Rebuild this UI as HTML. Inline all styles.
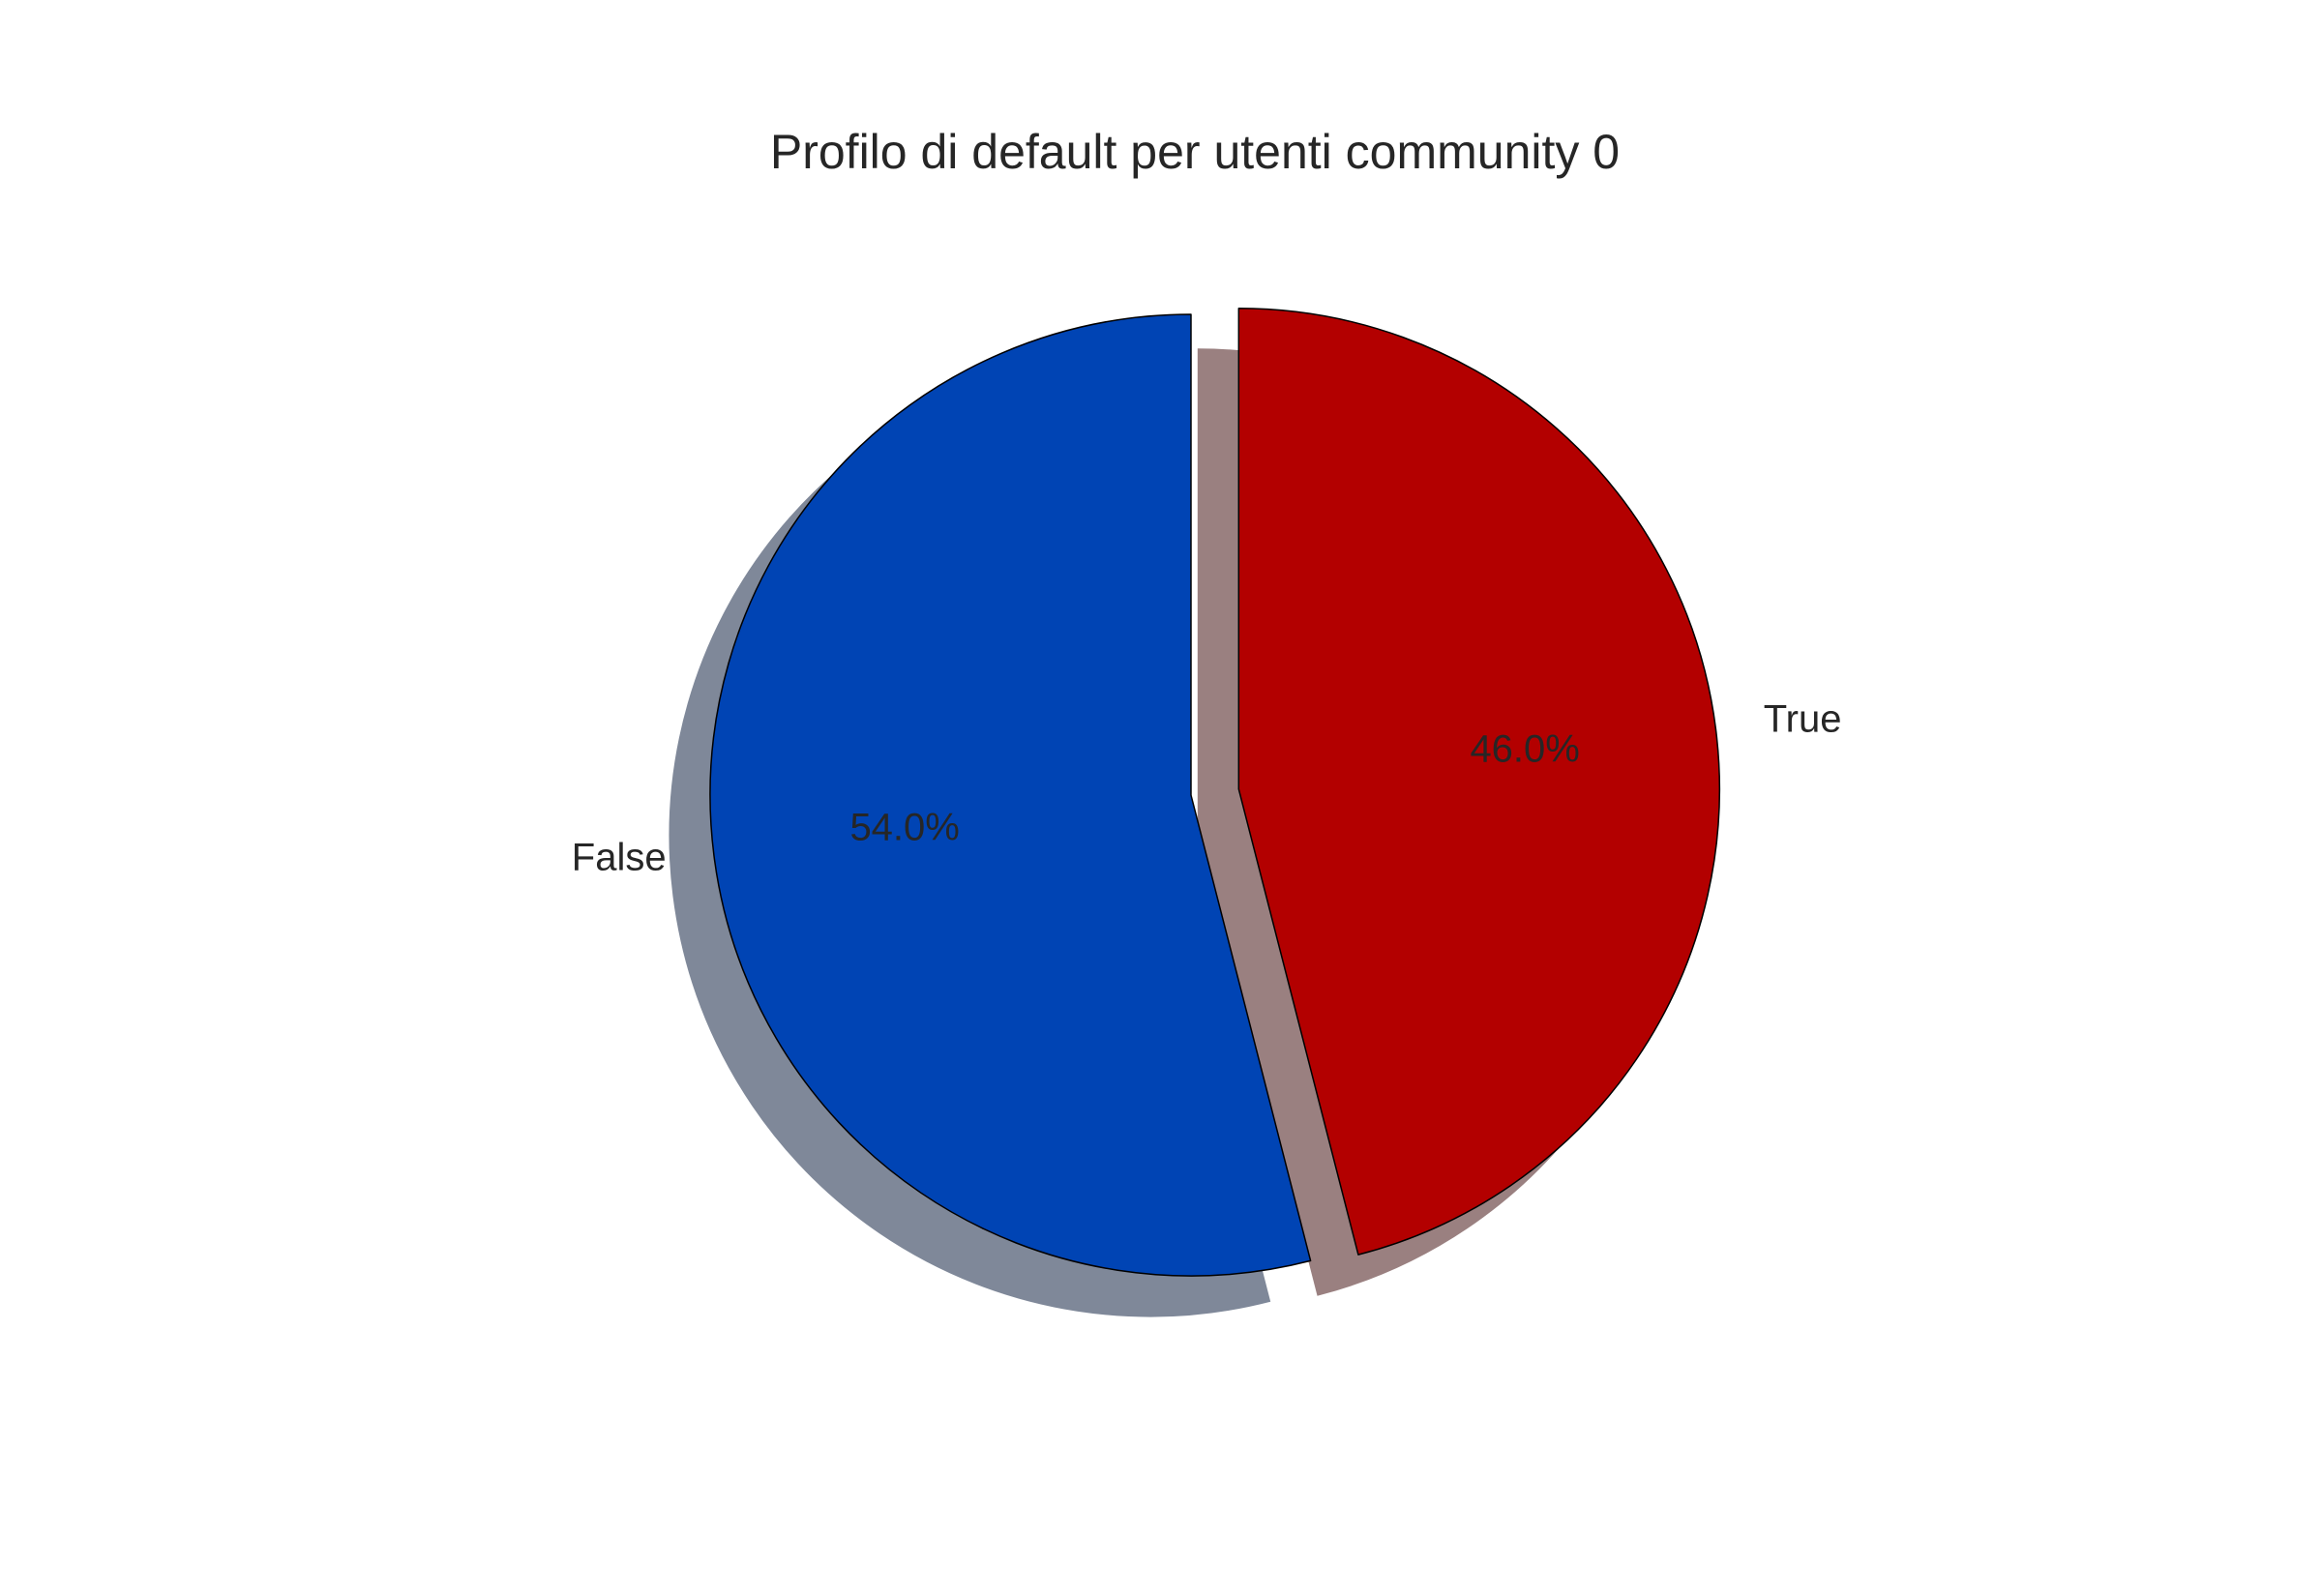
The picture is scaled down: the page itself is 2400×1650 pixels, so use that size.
<!DOCTYPE html>
<html><head><meta charset="utf-8"><style>
html,body{margin:0;padding:0;background:#fff}
svg{display:block}
text{font-family:"Liberation Sans",Arial,sans-serif;fill:#262626}
</style></head><body>
<svg id="chart" width="2400" height="1650" viewBox="0 0 2400 1650" xmlns="http://www.w3.org/2000/svg">
<text x="1235" y="174" font-size="50" text-anchor="middle">Profilo di default per utenti community 0</text>
<g id="shadows"></g>
<g id="wedges"></g>
<g id="labels"></g>
</svg>
<script>
const categories = ["False", "True"];
const values = [54.0, 46.0];
const explode = [0, 0.1];
const colors = ["#0044b4", "#b30000"];
const shadowColors = ["#7f8899", "#9a8080"];
const pctLabels = ["54.0%", "46.0%"];

const NS = "http://www.w3.org/2000/svg";
const CX = 1231, CY = 822, R = 497, SOX = -42, SOY = 42, START = 90;
const total = values.reduce((a, b) => a + b, 0);
const sh = document.getElementById("shadows");
const wg = document.getElementById("wedges");
const lb = document.getElementById("labels");
function pt(cx, cy, r, deg) { const t = deg * Math.PI / 180; return [cx + r * Math.cos(t), cy - r * Math.sin(t)]; }
function wedgePath(cx, cy, a0, a1) {
  const p0 = pt(cx, cy, R, a0), p1 = pt(cx, cy, R, a1);
  const large = (a1 - a0) > 180 ? 1 : 0;
  return `M${cx},${cy} L${p0[0]},${p0[1]} A${R},${R} 0 ${large} 0 ${p1[0]},${p1[1]} Z`;
}
let a = START;
values.forEach((v, i) => {
  const span = v / total * 360, a0 = a, a1 = a + span, mid = (a0 + a1) / 2;
  const m = mid * Math.PI / 180;
  const cx = CX + explode[i] * R * Math.cos(m), cy = CY - explode[i] * R * Math.sin(m);
  const s = document.createElementNS(NS, "path");
  s.setAttribute("d", wedgePath(cx + SOX, cy + SOY, a0, a1));
  s.setAttribute("fill", shadowColors[i]);
  s.setAttribute("stroke", shadowColors[i]);
  
  
  sh.appendChild(s);
  const w = document.createElementNS(NS, "path");
  w.setAttribute("d", wedgePath(cx, cy, a0, a1));
  w.setAttribute("fill", colors[i]);
  w.setAttribute("stroke", "#000");
  w.setAttribute("stroke-width", "1.5");
  w.setAttribute("stroke-linejoin", "round");
  
  
  wg.appendChild(w);
  const lp = pt(cx, cy, R * 1.1, mid);
  const t = document.createElementNS(NS, "text");
  t.setAttribute("x", lp[0]); t.setAttribute("y", lp[1] + 9);
  t.setAttribute("font-size", "40");
  t.setAttribute("text-anchor", Math.cos(m) < 0 ? "end" : "start");
  t.textContent = categories[i];
  
  
  lb.appendChild(t);
  const pp = pt(cx, cy, R * 0.6, mid);
  const p = document.createElementNS(NS, "text");
  p.setAttribute("x", pp[0]); p.setAttribute("y", pp[1] + 9);
  p.setAttribute("font-size", "40");
  p.setAttribute("text-anchor", "middle");
  p.textContent = pctLabels[i];
  
  
  lb.appendChild(p);
  a = a1;
});
</script>
</body></html>
